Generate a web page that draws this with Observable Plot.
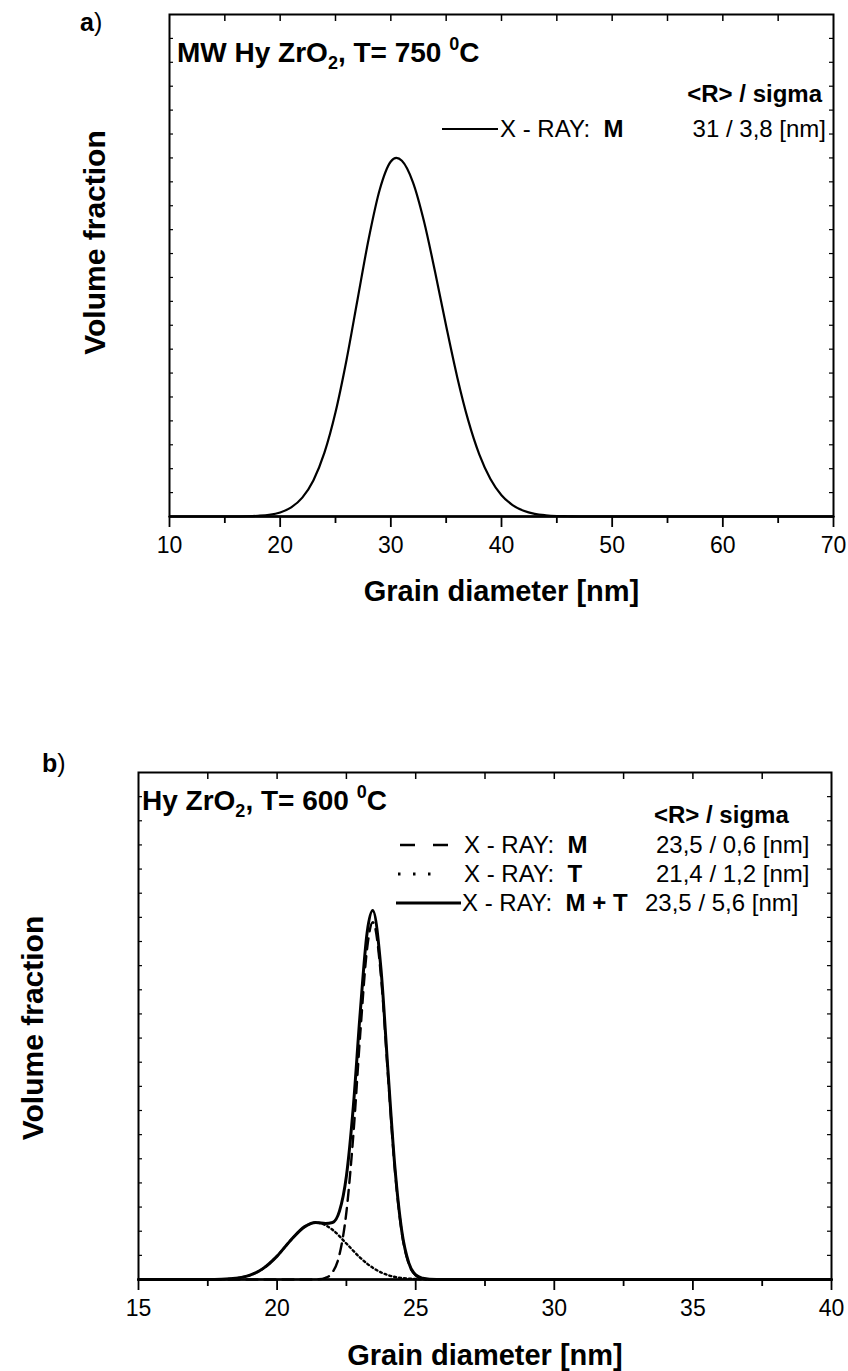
<!DOCTYPE html>
<html><head><meta charset="utf-8">
<script src="https://cdn.jsdelivr.net/npm/d3@7"></script>
<script src="https://cdn.jsdelivr.net/npm/@observablehq/plot@0.6"></script>
<style>
html,body{margin:0;padding:0;background:#fff;}
#page{position:relative;width:848px;height:1371px;overflow:hidden;background:#fff;}
#pa{position:absolute;left:0;top:0;}
#pb{position:absolute;left:0;top:700px;}
#ov{position:absolute;left:0;top:0;pointer-events:none;}
</style></head>
<body><div id="page"><div id="pa"></div><div id="pb"></div><svg id="ov" width="848" height="1371"></svg></div>
<script>
// ---------- data: panel a (MW Hy ZrO2, 750 C) ----------
const diamA = [10, 15, 16, 17, 18, 19, 20, 21, 22, 23, 24, 25, 26, 27, 28, 29, 30, 30.5, 31, 32, 33, 34, 35, 36, 37, 38, 39, 40, 41, 42, 43, 44, 45, 46, 47, 50, 60, 70];
const fracA_M = [0, 0, 0, 0.0001, 0.0003, 0.0007, 0.0017, 0.0038, 0.0079, 0.0151, 0.0267, 0.0436, 0.0656, 0.0910, 0.1162, 0.1368, 0.1485, 0.1500, 0.1488, 0.1398, 0.1234, 0.1023, 0.0797, 0.0583, 0.0401, 0.0259, 0.0157, 0.0089, 0.0048, 0.0024, 0.0011, 0.0005, 0.0002, 0.0001, 0, 0, 0, 0];

// ---------- data: panel b (Hy ZrO2, 600 C) ----------
const diamB_M = [15, 21, 21.5, 21.75, 22, 22.25, 22.5, 22.75, 23, 23.25, 23.45, 23.5, 23.75, 24, 24.25, 24.5, 24.75, 25, 25.25, 25.5, 26, 40];
const fracB_M = [0, 0, 0.0001, 0.0007, 0.0030, 0.0103, 0.0279, 0.0598, 0.1018, 0.1374, 0.1480, 0.1473, 0.1253, 0.0846, 0.0453, 0.0193, 0.0065, 0.0017, 0.0004, 0.0001, 0, 0];
const diamB_T = [15, 17, 17.5, 18, 18.5, 19, 19.5, 20, 20.5, 21, 21.4, 21.5, 22, 22.5, 23, 23.5, 24, 24.5, 25, 25.5, 26, 40];
const fracB_T = [0, 0, 0, 0.0001, 0.0005, 0.0017, 0.0046, 0.0097, 0.0164, 0.0219, 0.0236, 0.0235, 0.0206, 0.0149, 0.0090, 0.0045, 0.0018, 0.0006, 0.0002, 0, 0, 0];
const diamB_MT = [15, 17, 17.5, 18, 18.5, 19, 19.5, 20, 20.5, 21, 21.4, 21.75, 22, 22.25, 22.5, 22.75, 23, 23.25, 23.45, 23.75, 24, 24.25, 24.5, 24.75, 25, 25.25, 25.5, 26, 40];
const fracB_MT = [0, 0, 0, 0.0001, 0.0005, 0.0017, 0.0046, 0.0097, 0.0164, 0.0219, 0.0236, 0.0232, 0.0236, 0.0283, 0.0428, 0.0716, 0.1108, 0.1439, 0.1528, 0.1282, 0.0864, 0.0464, 0.0199, 0.0069, 0.0019, 0.0005, 0.0001, 0, 0];

// ---------- ticks ----------
const xMajorA = [10, 20, 30, 40, 50, 60, 70];
const xMinorA = [15, 25, 35, 45, 55, 65];
const xTopA = [15, 20, 25, 30, 35, 40, 45, 50, 55, 60, 65];
const xMajorB = [15, 20, 25, 30, 35, 40];
const xMinorB = [17.5, 22.5, 27.5, 32.5, 37.5];
const xTopB = [17.5, 20, 22.5, 25, 27.5, 30, 32.5, 35, 37.5];
const yTicks = [0.01, 0.02, 0.03, 0.04, 0.05, 0.06, 0.07, 0.08, 0.09, 0.10, 0.11, 0.12, 0.13, 0.14, 0.15, 0.16, 0.17, 0.18, 0.19, 0.20];

// ---------- texts ----------
const xTitle = "Grain diameter [nm]";
const yTitle = "Volume fraction";
const statsHeader = "<R> / sigma";
const legendA = [{phase: "M", stats: "31 / 3,8 [nm]"}];
const legendB = [
  {phase: "M", stats: "23,5 / 0,6 [nm]"},
  {phase: "T", stats: "21,4 / 1,2 [nm]"},
  {phase: "M + T", stats: "23,5 / 5,6 [nm]"}
];

const FONT = "'Liberation Sans', Arial, Helvetica, sans-serif";
const zip = (xs, ys) => xs.map((d, i) => ({d, v: ys[i]}));

function panel(o) {
  const fw = o.width - o.ml - o.mr, fh = o.height - o.mt - o.mb;
  return Plot.plot({
    width: o.width, height: o.height,
    marginTop: o.mt, marginBottom: o.mb, marginLeft: o.ml, marginRight: o.mr,
    style: {fontFamily: FONT, background: "white", color: "black", overflow: "visible"},
    x: {domain: o.xDomain},
    y: {domain: [0, 0.21], axis: null},
    marks: [
      Plot.tickX(o.top, {x: d => d, insetBottom: fh - 7, strokeWidth: 1.5}),
      Plot.tickY(yTicks, {y: d => d, insetRight: fw - 4, strokeWidth: 1.2}),
      Plot.tickY(yTicks, {y: d => d, insetLeft: fw - 4, strokeWidth: 1.2}),
      Plot.axisX(o.major, {tickSize: 11, tickPadding: 9, fontSize: 23, strokeWidth: 1.8, tickFormat: d => String(d), label: null}),
      Plot.axisX(o.minor, {tickSize: 7, strokeWidth: 1.8, tickFormat: () => "", label: null}),
      Plot.ruleY([0], {strokeWidth: 2.5}),
      ...o.lines,
      Plot.frame({strokeWidth: 2}),
      Plot.text([xTitle], {frameAnchor: "bottom", dy: o.xtDy, lineAnchor: "middle", fontSize: 29, fontWeight: "bold"}),
      Plot.text([yTitle], {frameAnchor: "left", rotate: -90, dx: o.ytDx, dy: o.ytDy, textAnchor: "middle", lineAnchor: "middle", fontSize: 30, fontWeight: "bold"})
    ]
  });
}

document.getElementById("pa").append(panel({
  width: 848, height: 660, mt: 14, mb: 144, ml: 169, mr: 15,
  xDomain: [10, 70], major: xMajorA, minor: xMinorA, top: xTopA,
  xtDy: 75, ytDx: -74, ytDy: -23,
  lines: [Plot.line(zip(diamA, fracA_M), {x: "d", y: "v", curve: "monotone-x", strokeWidth: 2.2})]
}));

document.getElementById("pb").append(panel({
  width: 848, height: 671, mt: 72, mb: 92, ml: 138, mr: 17,
  xDomain: [15, 40], major: xMajorB, minor: xMinorB, top: xTopB,
  xtDy: 76, ytDx: -105, ytDy: 2,
  lines: [
    Plot.line(zip(diamB_T, fracB_T), {x: "d", y: "v", curve: "monotone-x", strokeWidth: 2.4, strokeDasharray: "2,3"}),
    Plot.line(zip(diamB_M, fracB_M), {x: "d", y: "v", curve: "monotone-x", strokeWidth: 2.4, strokeDasharray: "11,7"}),
    Plot.line(zip(diamB_MT, fracB_MT), {x: "d", y: "v", curve: "monotone-x", strokeWidth: 3})
  ]
}));

// ---------- annotations (title, panel letters, legend) ----------
const ov = d3.select("#ov").attr("font-family", FONT);
function txt(x, y, parts, size = 24, anchor = "start") {
  const t = ov.append("text").attr("x", x).attr("y", y).attr("font-size", size)
    .attr("text-anchor", anchor).style("white-space", "pre").attr("fill", "black");
  for (const p of parts) {
    const s = t.append("tspan").text(p.t);
    if (p.b) s.attr("font-weight", "bold");
    if (p.size) s.attr("font-size", p.size);
    if (p.dy) s.attr("dy", p.dy);
  }
  return t;
}
function swatch(x1, x2, y, w, dash) {
  const l = ov.append("line").attr("x1", x1).attr("x2", x2).attr("y1", y).attr("y2", y)
    .attr("stroke", "black").attr("stroke-width", w);
  if (dash) l.attr("stroke-dasharray", dash);
}

// panel a
txt(80, 31, [{t: "a", b: true}, {t: ")"}], 25);
txt(177, 62, [{t: "MW Hy ZrO", b: true}, {t: "2", b: true, size: 18, dy: 7}, {t: ", T= 750 ", b: true, dy: -7},
              {t: "0", b: true, size: 18, dy: -12}, {t: "C", b: true, dy: 12}], 28);
txt(822, 102, [{t: statsHeader, b: true}], 24, "end");
swatch(442, 498, 129, 2);
txt(500, 137, [{t: "X - RAY:  "}, {t: legendA[0].phase, b: true}], 24);
txt(826, 137, [{t: legendA[0].stats}], 24, "end");

// panel b
txt(42, 772, [{t: "b", b: true}, {t: ")"}], 25);
txt(142, 810, [{t: "Hy ZrO", b: true}, {t: "2", b: true, size: 18, dy: 7}, {t: ", T= 600 ", b: true, dy: -7},
               {t: "0", b: true, size: 18, dy: -12}, {t: "C", b: true, dy: 12}], 28);
txt(654, 823, [{t: statsHeader, b: true}], 24);
const rowY = [853, 882, 911];
swatch(400, 448, rowY[0] - 8, 2.6, "15,18");
swatch(398, 432, rowY[1] - 8, 3, "2.5,12.5");
swatch(396, 461, rowY[2] - 8, 3);
legendB.forEach((e, i) => {
  txt(i === 2 ? 462 : 464, rowY[i], [{t: "X - RAY:  "}, {t: e.phase, b: true}], 24);
  txt(i === 2 ? 645 : 656, rowY[i], [{t: e.stats}], 24);
});
</script>
</body></html>
